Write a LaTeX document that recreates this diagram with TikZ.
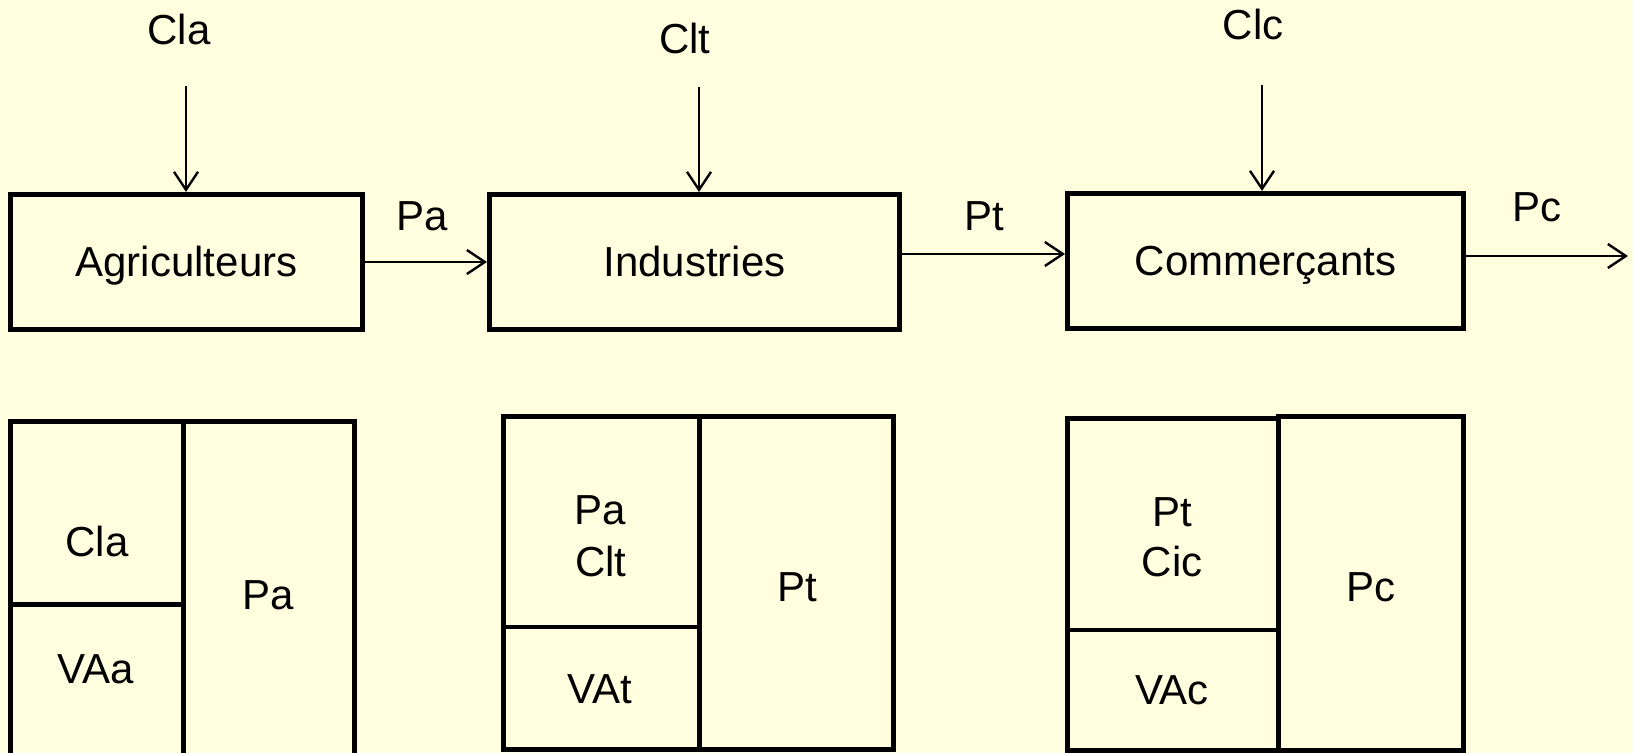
\documentclass[tikz,border=0pt]{standalone}
\usepackage{fontspec}
\setmainfont{Liberation Sans}
\usetikzlibrary{arrows.meta}
\definecolor{bgyellow}{RGB}{255,255,224}
\begin{document}
\begin{tikzpicture}[x=0.5pt,y=-0.5pt,
  box/.style={draw, line width=2.5pt, inner sep=0pt, text height=15pt, text depth=0pt, font=\fontsize{21}{25}\selectfont},
  lbl/.style={inner sep=0pt, text height=15pt, text depth=0pt, font=\fontsize{21}{25}\selectfont},
  arr/.style={line width=0.9pt, -{Straight Barb[length=9pt,width=12pt,line width=1.2pt]}},
  cell/.style={line width=2.5pt},
  divider/.style={line width=2.2pt}]
\useasboundingbox (0,0) rectangle (1633,753);
\clip (0,0) rectangle (1633,753);
\fill[bgyellow] (0,0) rectangle (1633,753);

% top row of boxes
\node[box, minimum width=176pt, minimum height=67.5pt] (agri) at (186.5,262) {Agriculteurs};
\node[box, minimum width=205pt, minimum height=67.5pt] (ind) at (694.5,262) {Industries};
\node[box, minimum width=198pt, minimum height=67.5pt] (comm) at (1265.5,261) {Commerçants};

% input labels and arrows
\node[lbl] (cla) at (179,30) {Cla};
\node[lbl] (clt) at (685,39) {Clt};
\node[lbl] (clc) at (1253,25) {Clc};
\coordinate (claS) at (186,86);
\coordinate (cltS) at (699,87);
\coordinate (clcS) at (1262,85);
\draw[arr] (claS) -- (claS |- agri.north);
\draw[arr] (cltS) -- (cltS |- ind.north);
\draw[arr] (clcS) -- (clcS |- comm.north);

% flows
\coordinate (ptY) at (0,254);
\coordinate (pcE) at (1628,256);
\draw[arr] (agri.east) -- (ind.west);
\draw[arr] (ind.east |- ptY) -- (comm.west |- ptY);
\draw[arr] (comm.east |- pcE) -- (pcE);
\node[lbl] (pa) at (422,216) {Pa};
\node[lbl] (pt) at (984,216) {Pt};
\node[lbl] (pc) at (1537,207) {Pc};

% bottom blocks
\draw[cell] (10.5,422) rectangle (354.5,790);
\draw[cell] (183,422) -- (183,790);
\draw[divider] (10.5,604.5) -- (183,604.5);

\draw[cell] (503,417) rectangle (893.5,749.5);
\draw[cell] (699.5,417) -- (699.5,749.5);
\draw[divider] (503,627) -- (699.5,627);

\draw[cell] (1067,419) rectangle (1278.5,750);
\draw[cell] (1278.5,417) rectangle (1463.5,750);
\draw[divider] (1067,630) -- (1278.5,630);

\node[lbl] (b1a) at (97,541) {Cla};
\node[lbl] (b1b) at (96,668) {VAa};
\node[lbl] (b1c) at (268,594) {Pa};
\node[lbl] (b2a) at (600,509) {Pa};
\node[lbl] (b2b) at (601,561) {Clt};
\node[lbl] (b2c) at (600,688) {VAt};
\node[lbl] (b2d) at (797,586) {Pt};
\node[lbl] (b3a) at (1172,511) {Pt};
\node[lbl] (b3b) at (1172,561) {Cic};
\node[lbl] (b3c) at (1172,689) {VAc};
\node[lbl] (b3d) at (1371,586) {Pc};
\end{tikzpicture}
\end{document}
